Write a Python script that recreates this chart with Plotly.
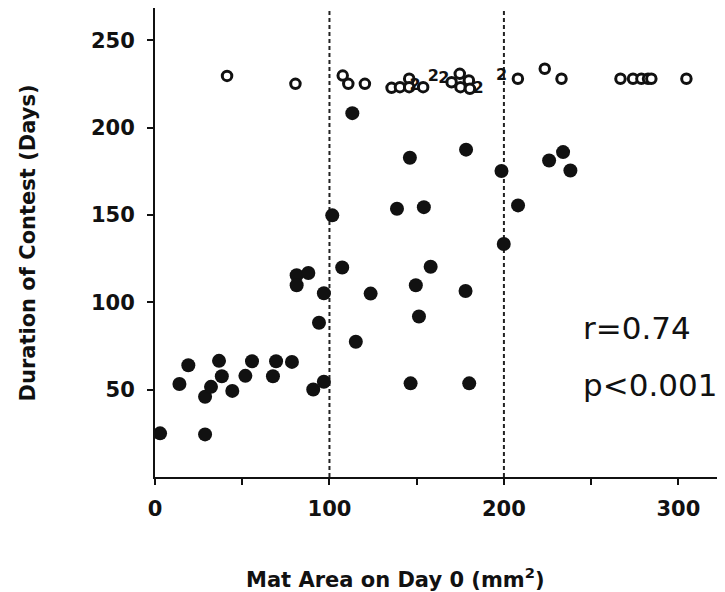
import plotly.graph_objects as go

# Filled circles: contests with known outcome (mat area mm^2, duration days)
filled_x = [2.9, 28.7, 14.0, 19.1, 28.7, 32.1, 36.7, 38.3, 44.3, 51.8, 55.6, 67.6,
            69.4, 78.5, 81.2, 87.9, 81.2, 90.7, 96.8, 94.0, 96.8, 101.6, 107.3, 113.1,
            115.1, 123.6, 138.7, 146.1, 146.5, 149.5, 151.3, 154.1, 158.0, 178.0, 178.3,
            180.1, 198.6, 199.9, 208.1, 225.9, 233.9, 238.1]
filled_y = [25.0, 24.4, 53.2, 64.0, 45.9, 51.6, 66.5, 57.7, 49.3, 57.9, 66.3, 57.7,
            66.3, 65.9, 115.5, 116.8, 109.8, 50.1, 54.5, 88.3, 105.2, 149.8, 119.9, 208.3,
            77.4, 105.0, 153.6, 182.8, 53.6, 109.8, 91.9, 154.5, 120.4, 106.5, 187.4,
            53.6, 175.2, 133.4, 155.5, 181.2, 186.0, 175.5]

# Open circles: unresolved contests plotted along the top
open_x = [41.3, 80.5, 107.6, 110.8, 120.3, 135.6, 140.4, 145.7, 145.7, 153.7, 170.0,
          174.7, 175.1, 179.9, 180.5, 208.0, 223.4, 233.0, 266.8, 274.0, 278.8, 282.6,
          284.5, 304.6]
open_y = [229.6, 225.1, 229.8, 225.1, 225.1, 222.8, 223.2, 228.0, 223.2, 223.2, 226.0,
          230.8, 223.2, 227.0, 222.2, 228.0, 233.7, 228.0, 228.0, 228.0, 228.0, 228.0,
          228.0, 228.0]

# "2" markers: two coincident open points
dup_x = [149.0, 159.5, 165.6, 185.2, 198.6]
dup_y = [224.1, 228.9, 228.0, 222.2, 229.8]
dup_text = ["2", "2", "2", "2", "2"]

x_ticks = [0, 100, 200, 300]
x_tick_text = ["0", "100", "200", "300"]
y_ticks = [50, 100, 150, 200, 250]
y_tick_text = ["50", "100", "150", "200", "250"]
boundaries = [100, 200]

fig = go.Figure()
fig.add_trace(go.Scatter(x=filled_x, y=filled_y, mode="markers",
                         marker=dict(size=14, color="#111111", line=dict(width=0)),
                         cliponaxis=False, showlegend=False))
fig.add_trace(go.Scatter(x=open_x, y=open_y, mode="markers",
                         marker=dict(size=9.5, color="white", line=dict(width=3, color="#111111")),
                         cliponaxis=False, showlegend=False))
fig.add_trace(go.Scatter(x=dup_x, y=dup_y, mode="text", text=dup_text,
                         textfont=dict(family="DejaVu Sans", size=16, color="#111111", weight="bold"),
                         cliponaxis=False, showlegend=False))

for b in boundaries:
    fig.add_shape(type="line", x0=b, x1=b, xref="x", y0=0, y1=1, yref="paper",
                  line=dict(color="#222222", width=2, dash="4px,3px"), layer="below")

tickfont = dict(family="DejaVu Sans", size=21, color="#111111", weight="bold")
fig.update_xaxes(range=[0, 325], showline=True, linewidth=2, linecolor="#111111",
                 showgrid=False, zeroline=False, ticks="outside", ticklen=6, tickwidth=2,
                 tickcolor="#111111", tickvals=x_ticks, ticktext=x_tick_text,
                 minor=dict(dtick=50, tick0=0, ticks="outside", ticklen=6, tickwidth=2,
                            tickcolor="#111111", showgrid=False),
                 tickfont=tickfont, ticklabelstandoff=6)
fig.update_yaxes(range=[0, 268.5], showline=True, linewidth=2, linecolor="#111111",
                 showgrid=False, zeroline=False, ticks="outside", ticklen=6, tickwidth=2,
                 tickcolor="#111111", tickvals=y_ticks, ticktext=y_tick_text,
                 tickfont=tickfont, ticklabelstandoff=8)

title_font = dict(family="DejaVu Sans", size=21, color="#111111", weight="bold")
fig.add_annotation(text="Duration of Contest (Days)", xref="paper", yref="paper",
                   x=-0.224, y=0.5, textangle=-90, showarrow=False, font=title_font,
                   xanchor="center", yanchor="middle")
fig.add_annotation(text="Mat Area on Day 0 (mm<sup>2</sup>)", xref="paper", yref="paper",
                   x=0.424, y=-0.215, showarrow=False, font=title_font,
                   xanchor="center", yanchor="middle")

stat_font = dict(family="DejaVu Sans", size=31, color="#111111")
fig.add_annotation(text="r=0.74", xref="paper", yref="paper", x=0.752, y=0.317,
                   showarrow=False, font=stat_font, xanchor="left", yanchor="middle")
fig.add_annotation(text="p<0.001", xref="paper", yref="paper", x=0.752, y=0.196,
                   showarrow=False, font=stat_font, xanchor="left", yanchor="middle")

# page body has an 8px margin, so the figure is sized/offset to compensate
fig.update_layout(width=717, height=584, autosize=False,
                  margin=dict(l=147, r=3, t=0, b=115),
                  plot_bgcolor="white", paper_bgcolor="white", showlegend=False)

fig.write_html("out.html")
